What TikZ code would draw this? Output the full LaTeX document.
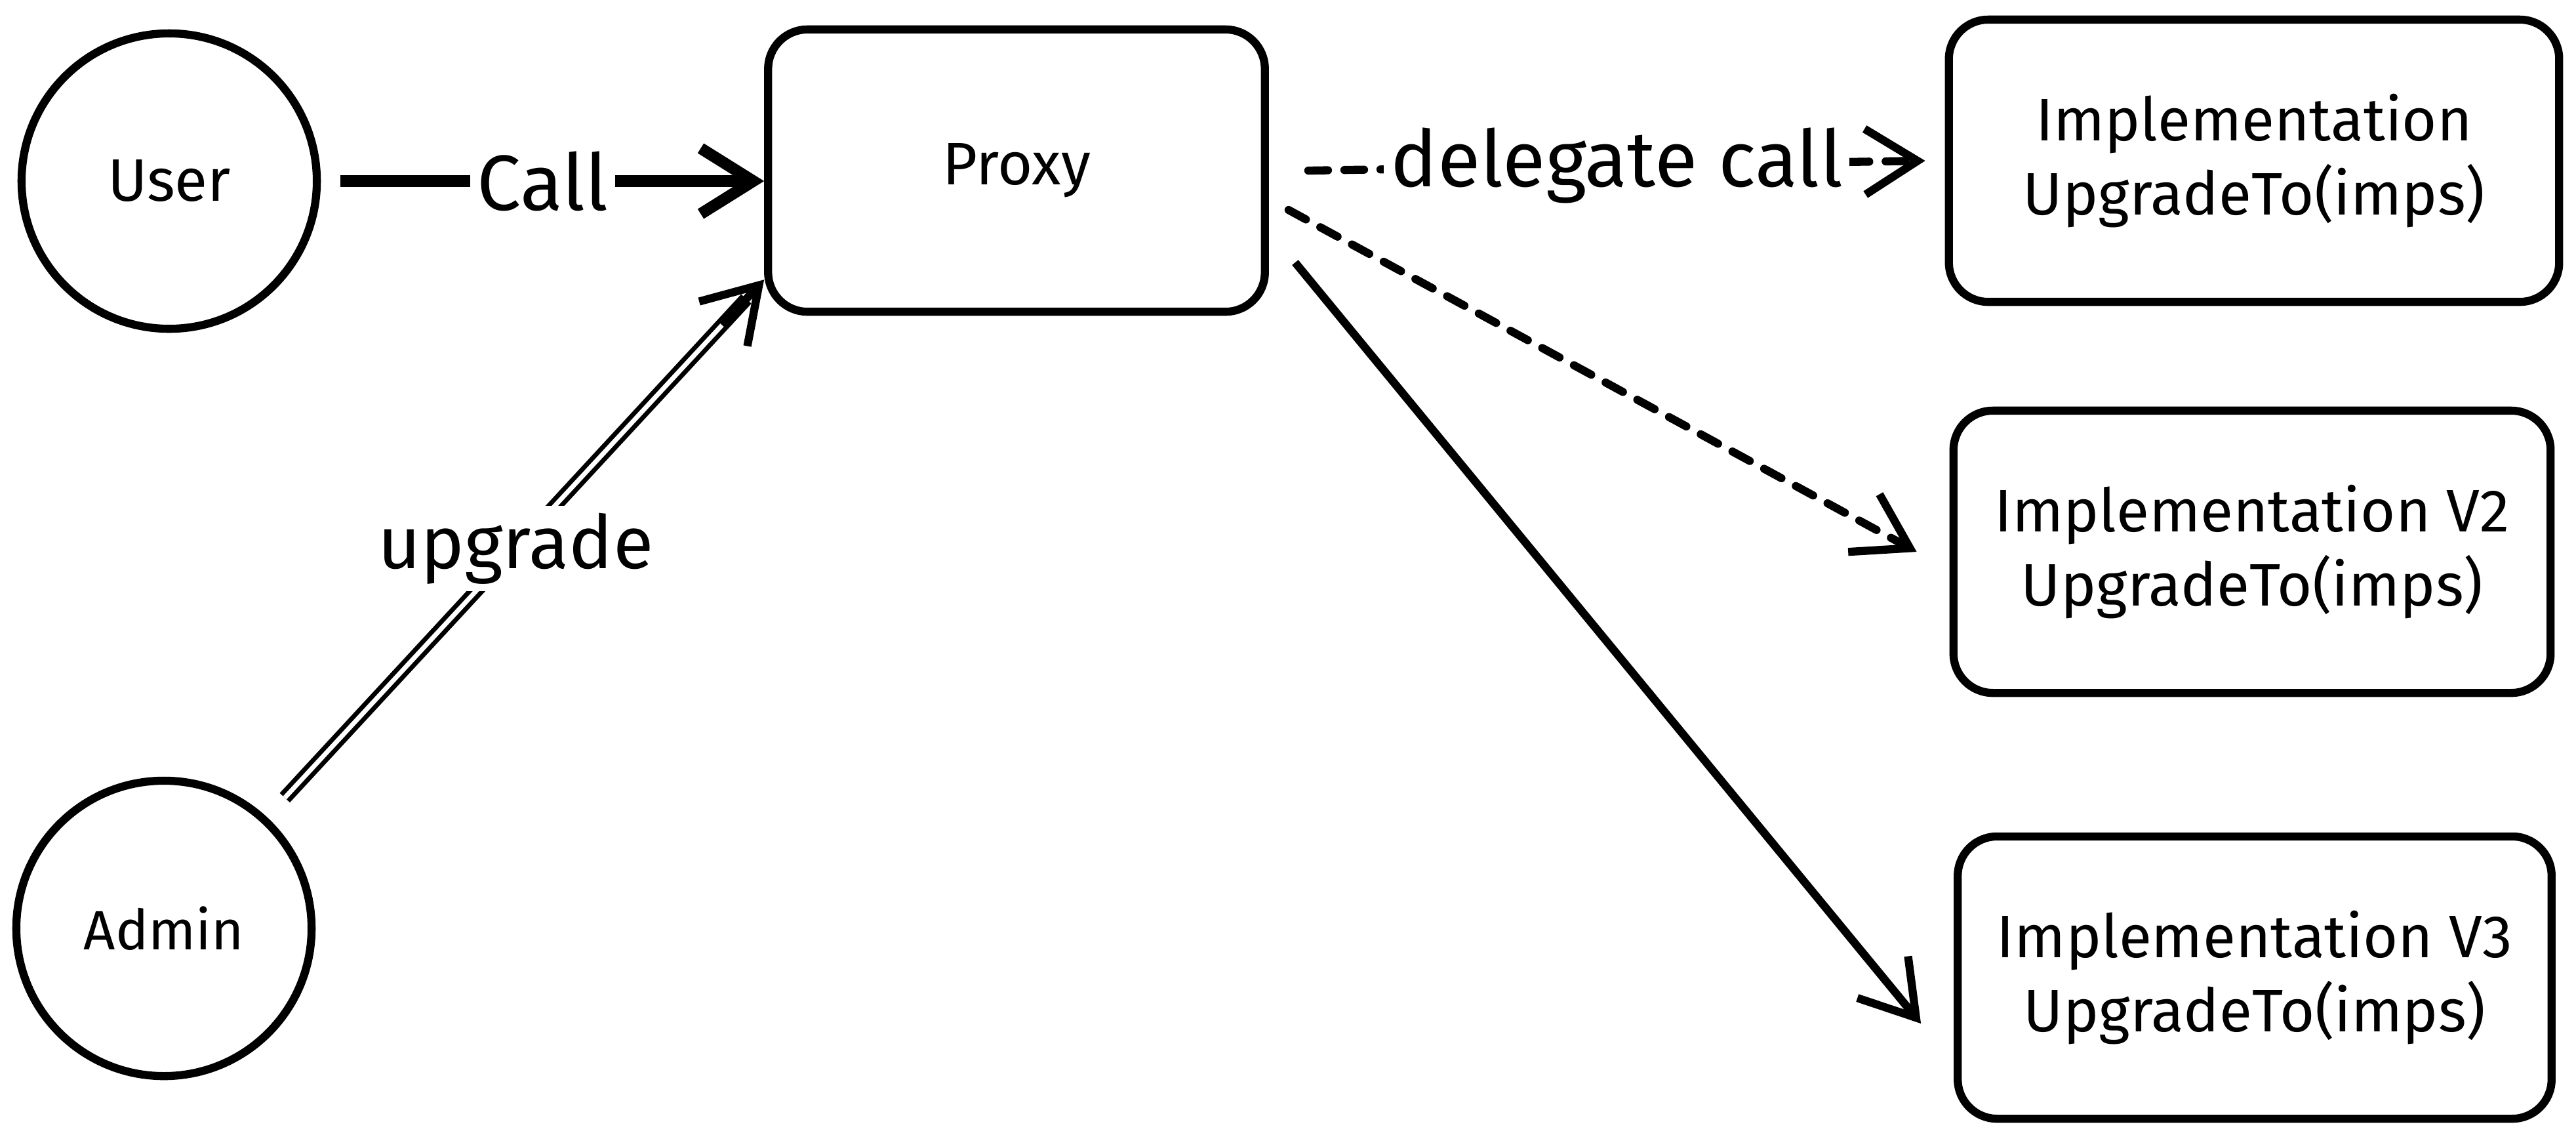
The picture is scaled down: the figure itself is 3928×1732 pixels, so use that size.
\documentclass[tikz,border=0pt]{standalone}
\usepackage{fontspec}
\setmainfont{Fira Sans}
\usetikzlibrary{arrows.meta, calc}

\begin{document}
\begin{tikzpicture}[x=0.01cm, y=-0.01cm, line width=3.5pt,
    actor/.style={draw, circle, minimum size=4.5cm, inner sep=0pt, font=\fontsize{26}{32}\selectfont},
    impl/.style={draw, rounded corners=0.6cm, align=center, minimum height=4.3cm, font=\fontsize{26}{32}\selectfont},
    tip/.style={-{Straight Barb[length=8mm, width=10mm]}},
    dbl/.style={double, line width=2pt, double distance=2pt},
    dashline/.style={dash pattern=on 0.3cm off 0.25cm, line cap=round},
    lbl/.style={fill=white, inner sep=3pt, font=\fontsize{34}{40}\selectfont}]

    % Canvas
    \fill[white] (0,0) rectangle (3928,1732);

    % Callers on the left
    \node[actor] (user) at (258,276) {User};
    \node[actor, font=\fontsize{24}{30}\selectfont] (admin) at (250,1415) {Admin};

    % The proxy in the middle
    \node[impl, minimum width=7.57cm] (proxy) at (1550,260) {Proxy};

    % Implementations on the right
    \node[impl, minimum width=9.3cm] (impl) at (3437,245) {Implementation\\UpgradeTo(imps)};
    \node[impl, minimum width=9.1cm] (implv2) at (3434,841) {Implementation V2\\UpgradeTo(imps)};
    \node[impl, minimum width=9.05cm] (implv3) at (3438,1490) {Implementation V3\\UpgradeTo(imps)};

    % User calls the proxy
    \draw[tip, line width=5pt, shorten <=3mm] (user.east) -- (user.east -| proxy.west)
        node[midway, lbl] {Call};

    % Admin upgrades the proxy
    \coordinate (adminin) at ([yshift=5.5mm]proxy.south west);
    \draw[dbl, shorten <=4mm, shorten >=4mm] (admin) -- (adminin)
        node[midway, lbl, font=\fontsize{32}{38}\selectfont] {upgrade};
    \draw[tip] ($(admin)!0.93!(adminin)$) -- (adminin);

    % Proxy forwards to the implementations
    \draw[tip, dashline] ([xshift=6mm]proxy.east) -- ([xshift=-3mm]impl.west)
        node[midway, lbl] {delegate call};
    \draw[tip, dashline] ([xshift=3mm, yshift=-6mm]proxy.east) -- ([xshift=-5mm]implv2.west);
    \draw[tip] ([xshift=4mm, yshift=-14mm]proxy.east) -- ([xshift=-5mm, yshift=-7mm]implv3.west);

\end{tikzpicture}
\end{document}
